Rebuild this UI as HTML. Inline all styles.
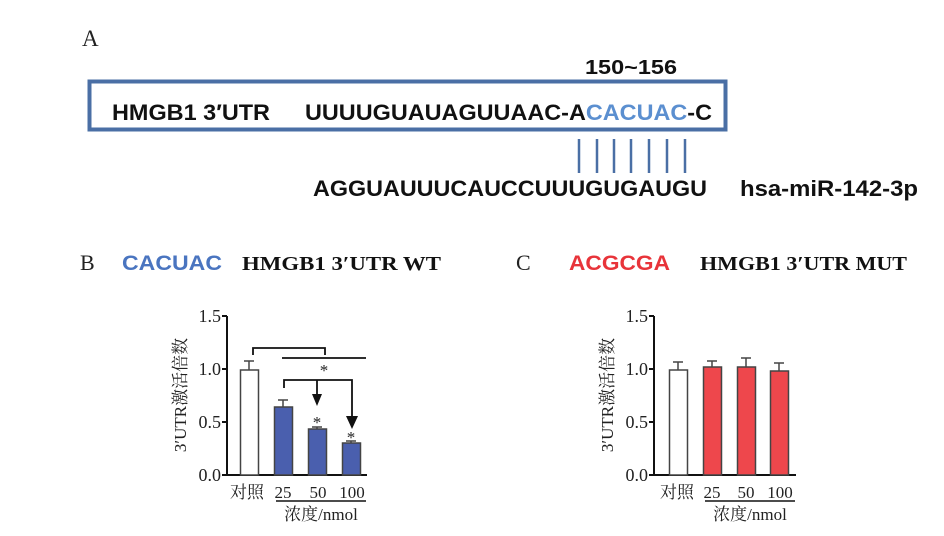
<!DOCTYPE html>
<html><head><meta charset="utf-8"><style>
html,body{margin:0;padding:0;background:#fff;width:944px;height:536px;overflow:hidden}
svg{display:block}
.ar{font-family:"Liberation Sans",Arial,sans-serif;font-weight:bold}
.se{font-family:"Liberation Serif","Noto Serif CJK SC",serif}
.cj{font-family:"Liberation Serif","Noto Serif CJK SC","Noto Sans CJK SC",serif}
</style></head><body>
<svg width="944" height="536" viewBox="0 0 944 536" xmlns="http://www.w3.org/2000/svg">
<text x="82" y="46" class="se" font-size="23" fill="#222">A</text>
<text x="631" y="74" class="ar" font-size="20" text-anchor="middle" fill="#111" textLength="92" lengthAdjust="spacingAndGlyphs">150~156</text>
<rect x="89.5" y="81.5" width="636" height="48" fill="none" stroke="#4a6fa5" stroke-width="4"/>
<text x="112" y="120" class="ar" font-size="22" fill="#111" textLength="158" lengthAdjust="spacingAndGlyphs">HMGB1 3′UTR</text>
<text x="305" y="120" class="ar" font-size="22" fill="#111" textLength="407" lengthAdjust="spacingAndGlyphs">UUUUGUAUAGUUAAC-A<tspan fill="#5b8fd0">CACUAC</tspan>-C</text>
<g stroke="#4a6fa5" stroke-width="2.5">
<line x1="579" y1="139" x2="579" y2="173"/><line x1="597" y1="139" x2="597" y2="173"/>
<line x1="614" y1="139" x2="614" y2="173"/><line x1="631" y1="139" x2="631" y2="173"/>
<line x1="649" y1="139" x2="649" y2="173"/><line x1="667" y1="139" x2="667" y2="173"/>
<line x1="685" y1="139" x2="685" y2="173"/></g>
<text x="313" y="196" class="ar" font-size="22" fill="#111" textLength="394" lengthAdjust="spacingAndGlyphs">AGGUAUUUCAUCCUUUGUGAUGU</text>
<text x="740" y="196" class="ar" font-size="22" fill="#111" textLength="178" lengthAdjust="spacingAndGlyphs">hsa-miR-142-3p</text>

<text x="80" y="270" class="se" font-size="22" fill="#222">B</text>
<text x="122" y="270" class="ar" font-size="21" fill="#4a75c0" textLength="100" lengthAdjust="spacingAndGlyphs">CACUAC</text>
<text x="242" y="270" class="se" font-size="20" font-weight="bold" fill="#111" textLength="199" lengthAdjust="spacingAndGlyphs">HMGB1 3′UTR WT</text>
<text x="516" y="270" class="se" font-size="22" fill="#222">C</text>
<text x="569" y="270" class="ar" font-size="21" fill="#e8343a" textLength="101" lengthAdjust="spacingAndGlyphs">ACGCGA</text>
<text x="700" y="270" class="se" font-size="20" font-weight="bold" fill="#111" textLength="207" lengthAdjust="spacingAndGlyphs">HMGB1 3′UTR MUT</text>

<!-- Chart B -->
<g class="se" font-size="18" fill="#222" text-anchor="end">
<text x="221" y="322">1.5</text><text x="221" y="375">1.0</text><text x="221" y="428">0.5</text><text x="221" y="481">0.0</text></g>
<g stroke="#111" stroke-width="2" fill="none">
<line x1="227" y1="316" x2="227" y2="476"/><line x1="222" y1="316" x2="227" y2="316"/><line x1="222" y1="369" x2="227" y2="369"/><line x1="222" y1="422" x2="227" y2="422"/><line x1="222" y1="475" x2="367" y2="475"/></g>
<text transform="translate(186,395) rotate(-90)" class="cj" font-size="17" fill="#222" text-anchor="middle">3′UTR激活倍数</text>
<g stroke="#444" stroke-width="1.5">
<line x1="249" y1="370" x2="249" y2="361"/><line x1="244" y1="361" x2="254" y2="361"/>
<line x1="283" y1="407" x2="283" y2="400"/><line x1="278" y1="400" x2="288" y2="400"/>
<line x1="317" y1="429" x2="317" y2="427"/><line x1="312" y1="427" x2="322" y2="427"/>
<line x1="351" y1="443" x2="351" y2="441"/><line x1="346" y1="441" x2="356" y2="441"/></g>
<rect x="240.5" y="370" width="18" height="105" fill="#fff" stroke="#444" stroke-width="1.5"/>
<rect x="274.5" y="407" width="18" height="68" fill="#4a5fae" stroke="#444" stroke-width="1.5"/>
<rect x="308.5" y="429" width="18" height="46" fill="#4a5fae" stroke="#444" stroke-width="1.5"/>
<rect x="342.5" y="443" width="18" height="32" fill="#4a5fae" stroke="#444" stroke-width="1.5"/>
<g stroke="#111" stroke-width="1.8" fill="none">
<polyline points="253,355 253,348 325,348 325,355"/>
<line x1="282" y1="358" x2="366" y2="358"/>
<polyline points="284,388 284,380 352,380 352,418"/>
<line x1="317" y1="380" x2="317" y2="395"/></g>
<polygon points="312,394 322,394 317,406" fill="#111"/>
<polygon points="346,416 358,416 352,429" fill="#111"/>
<g class="se" font-size="17" fill="#222" text-anchor="middle">
<text x="324" y="376">*</text><text x="317" y="428">*</text><text x="351" y="443">*</text></g>
<g class="cj" font-size="17" fill="#222" text-anchor="middle">
<text x="247" y="498">对照</text><text x="283" y="498">25</text><text x="318" y="498">50</text><text x="352" y="498">100</text>
<text x="321" y="520">浓度/nmol</text></g>
<line x1="276" y1="501" x2="366" y2="501" stroke="#111" stroke-width="1.5"/>

<!-- Chart C -->
<g class="se" font-size="18" fill="#222" text-anchor="end">
<text x="648" y="322">1.5</text><text x="648" y="375">1.0</text><text x="648" y="428">0.5</text><text x="648" y="481">0.0</text></g>
<g stroke="#111" stroke-width="2" fill="none">
<line x1="654" y1="316" x2="654" y2="476"/><line x1="649" y1="316" x2="654" y2="316"/><line x1="649" y1="369" x2="654" y2="369"/><line x1="649" y1="422" x2="654" y2="422"/><line x1="649" y1="475" x2="796" y2="475"/></g>
<text transform="translate(613,395) rotate(-90)" class="cj" font-size="17" fill="#222" text-anchor="middle">3′UTR激活倍数</text>
<g stroke="#444" stroke-width="1.5">
<line x1="678" y1="370" x2="678" y2="362"/><line x1="673" y1="362" x2="683" y2="362"/>
<line x1="712" y1="367" x2="712" y2="361"/><line x1="707" y1="361" x2="717" y2="361"/>
<line x1="746" y1="367" x2="746" y2="358"/><line x1="741" y1="358" x2="751" y2="358"/>
<line x1="779" y1="371" x2="779" y2="363"/><line x1="774" y1="363" x2="784" y2="363"/></g>
<rect x="669.5" y="370" width="18" height="105" fill="#fff" stroke="#444" stroke-width="1.5"/>
<rect x="703.5" y="367" width="18" height="108" fill="#ee474c" stroke="#444" stroke-width="1.5"/>
<rect x="737.5" y="367" width="18" height="108" fill="#ee474c" stroke="#444" stroke-width="1.5"/>
<rect x="770.5" y="371" width="18" height="104" fill="#ee474c" stroke="#444" stroke-width="1.5"/>
<g class="cj" font-size="17" fill="#222" text-anchor="middle">
<text x="677" y="498">对照</text><text x="712" y="498">25</text><text x="746" y="498">50</text><text x="780" y="498">100</text>
<text x="750" y="520">浓度/nmol</text></g>
<line x1="705" y1="501" x2="795" y2="501" stroke="#111" stroke-width="1.5"/>
</svg>
</body></html>
